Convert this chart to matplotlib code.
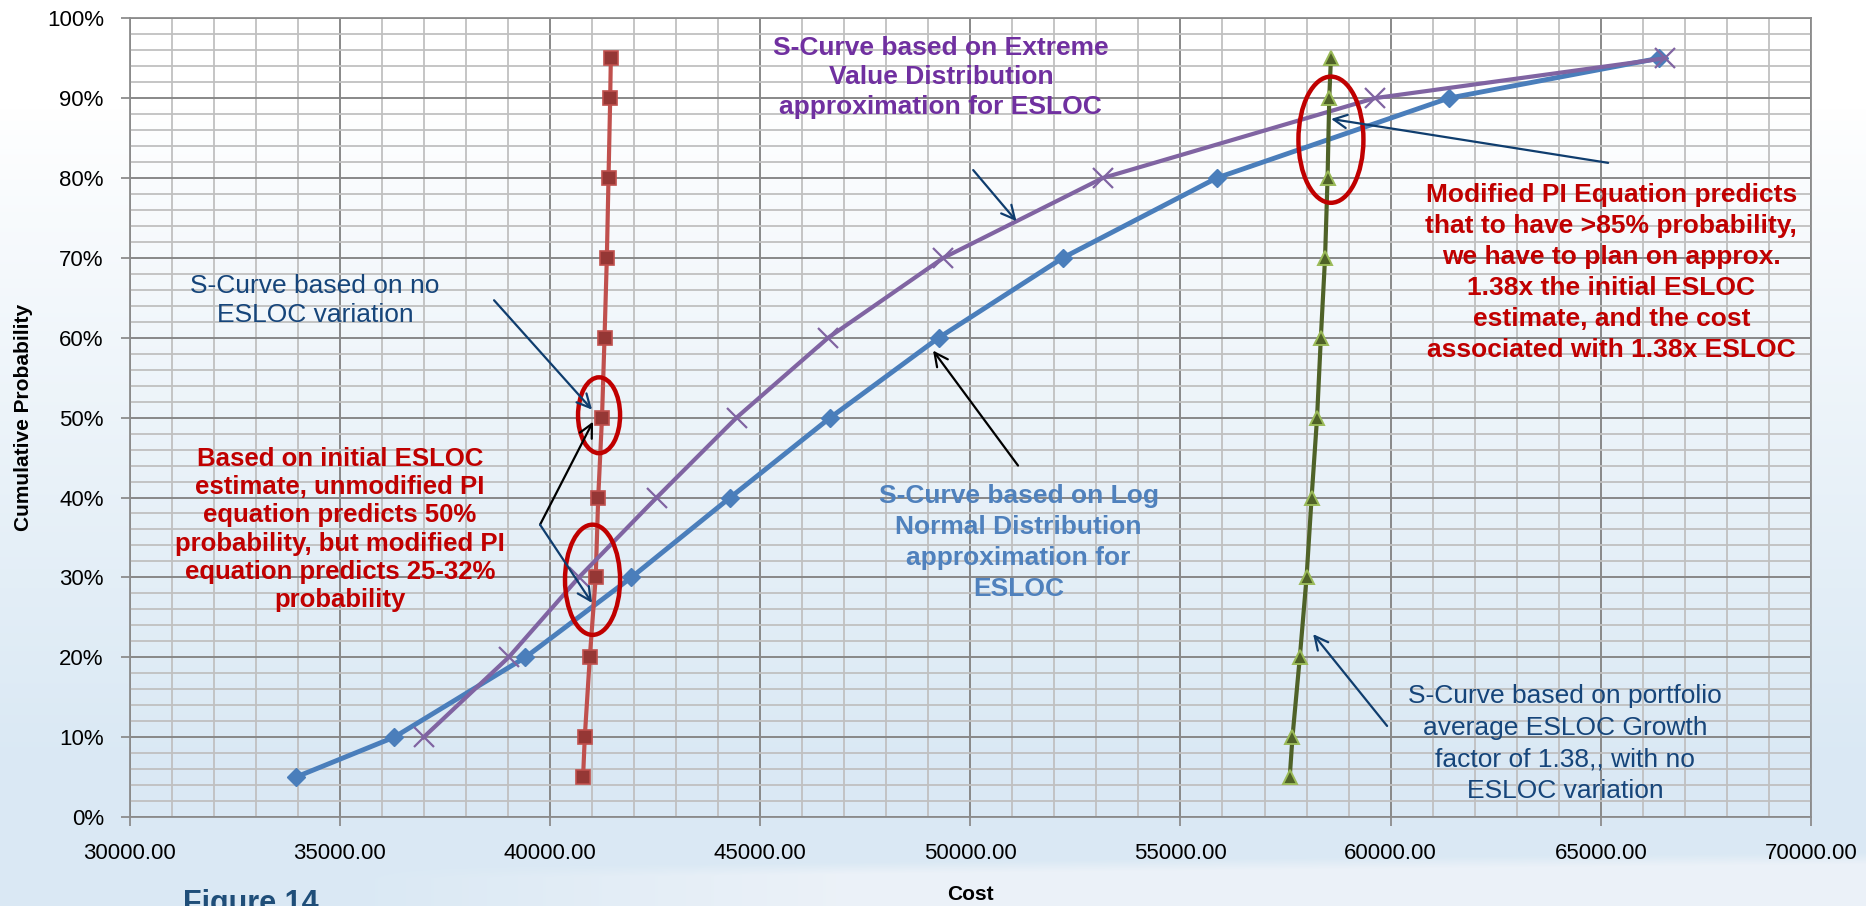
import numpy as np
import matplotlib
matplotlib.use("Agg")
import matplotlib.pyplot as plt
from matplotlib.patches import Ellipse
from matplotlib.ticker import MultipleLocator, FuncFormatter

plt.rcParams["font.family"] = ["Liberation Sans", "DejaVu Sans"]

# cumulative probability levels (%)
prob = [5, 10, 20, 30, 40, 50, 60, 70, 80, 90, 95]
prob_extreme = [10, 20, 30, 40, 50, 60, 70, 80, 90, 95]

# cost
cost_lognormal = [33960, 36300, 39420, 41940, 44290, 46670, 49250, 52200, 55860, 61380, 66390]
cost_no_variation = [40790, 40830, 40950, 41090, 41150, 41240, 41300, 41355, 41395, 41435, 41450]
cost_portfolio = [57600, 57665, 57840, 58000, 58120, 58250, 58340, 58440, 58500, 58540, 58580]
cost_extreme = [37000, 39020, 40690, 42540, 44440, 46620, 49360, 53150, 59620, 66530]

W, H = 1866, 906
fig = plt.figure(figsize=(W / 100, H / 100), dpi=100)

# light blue slide background
bg = fig.add_axes([0, 0, 1, 1], zorder=-10)
yy, xx = np.mgrid[0:H, 0:W]
f = np.clip((yy / H - 0.12) / 0.72, 0, 1) ** 0.9
top = np.array([1.0, 1.0, 1.0])
bot = np.array([0.855, 0.912, 0.957])
img = top * (1 - f[..., None]) + bot * f[..., None]
edge = 870 - 18 * (xx / W)
sw = np.clip((yy - edge) / 12, 0, 1) * np.clip((xx - 350) / 500, 0, 1)
light = np.array([0.925, 0.947, 0.973])
img = img * (1 - sw[..., None]) + light * sw[..., None]
bg.imshow(img, aspect="auto", extent=[0, 1, 0, 1])
bg.axis("off")

ax = fig.add_axes([129.5 / W, 1 - 817 / H, (1811 - 129.5) / W, (817 - 18.3) / H])
ax.set_facecolor("none")

ax.plot(cost_lognormal, prob, color="#4a7ebb", lw=3.5, marker="D", ms=9.5,
        mfc="#4a7ebb", mec="#4a7ebb", zorder=3)
ax.plot(cost_no_variation, prob, color="#c0504d", lw=3.0, marker="s", ms=9.5,
        mfc="#953735", mec="#c0504d", mew=1.2, zorder=4)
ax.plot(cost_extreme, prob_extreme, color="#8064a2", lw=3.0, marker="x", ms=14,
        mew=1.6, mec="#8064a2", zorder=5)
ax.plot(cost_portfolio, prob, color="#4f6228", lw=3.0, marker="^", ms=9.5,
        mfc="#4f6228", mec="#9bbb59", mew=1.4, zorder=6)

ax.set_xlim(30000, 70000)
ax.set_ylim(0, 100)
ax.xaxis.set_major_locator(MultipleLocator(5000))
ax.xaxis.set_minor_locator(MultipleLocator(1000))
ax.yaxis.set_major_locator(MultipleLocator(10))
ax.yaxis.set_minor_locator(MultipleLocator(2))
ax.xaxis.set_major_formatter(FuncFormatter(lambda v, p: f"{v:.2f}"))
ax.yaxis.set_major_formatter(FuncFormatter(lambda v, p: f"{v:.0f}%"))
ax.set_axisbelow(True)
ax.grid(which="major", color="#888888", lw=1.4)
ax.grid(which="minor", color="#c0c0c0", lw=1.3)
ax.tick_params(which="major", length=6.5, width=1.3, color="#8c8c8c",
               labelsize=16, pad=12)
ax.tick_params(which="minor", length=0)
for s in ax.spines.values():
    s.set_color("#8c8c8c")
    s.set_linewidth(1.3)

ax.set_xlabel("Cost", fontsize=15, fontweight="bold", labelpad=15)
ax.set_ylabel("Cumulative Probability", fontsize=15, fontweight="bold", labelpad=10)

# red ellipses around the points of interest
for cx, cy, w, h in [(41170, 50.3, 1000, 9.5), (41015, 29.7, 1310, 13.8), (58580, 84.8, 1546, 15.8)]:
    ax.add_patch(Ellipse((cx, cy), w, h, fill=False, ec="#c00000", lw=3.2, zorder=8))

dark = "#0f3d6e"
arrows = [
    ((50070, 81.0), (51100, 74.6), dark),
    ((38672, 64.7), (41003, 51.0), dark),
    ((39766, 36.6), (41027, 49.5), "black"),
    ((39766, 36.6), (41003, 26.8), dark),
    ((51137, 44.0), (49115, 58.4), "black"),
    ((65174, 81.9), (58584, 87.4), dark),
    ((59916, 11.4), (58156, 22.9), dark),
]
for tail, tip, c in arrows:
    ax.annotate("", xy=tip, xytext=tail,
                arrowprops=dict(arrowstyle="->", color=c, lw=1.6, mutation_scale=24,
                                shrinkA=0, shrinkB=0), zorder=9)

ax.text(49300, 92.6, "S-Curve based on Extreme\nValue Distribution\napproximation for ESLOC",
        ha="center", va="center", fontsize=19, fontweight="bold", color="#7030a0",
        linespacing=1.3, zorder=10)
ax.text(34413, 64.7, "S-Curve based on no\nESLOC variation",
        ha="center", va="center", fontsize=19, color="#16457a", linespacing=1.25, zorder=10)
ax.text(35000, 36.0,
        "Based on initial ESLOC\nestimate, unmodified PI\nequation predicts 50%\n"
        "probability, but modified PI\nequation predicts 25-32%\nprobability",
        ha="center", va="center", fontsize=18.5, fontweight="bold", color="#c00000",
        linespacing=1.22, zorder=10)
ax.text(51150, 34.4, "S-Curve based on Log\nNormal Distribution\napproximation for\nESLOC",
        ha="center", va="center", fontsize=19, fontweight="bold", color="#4f81bd",
        linespacing=1.36, zorder=10)
ax.text(65250, 68.2,
        "Modified PI Equation predicts\nthat to have >85% probability,\nwe have to plan on approx.\n"
        "1.38x the initial ESLOC\nestimate, and the cost\nassociated with 1.38x ESLOC",
        ha="center", va="center", fontsize=19, fontweight="bold", color="#c00000",
        linespacing=1.37, zorder=10)
ax.text(64150, 9.2, "S-Curve based on portfolio\naverage ESLOC Growth\nfactor of 1.38,, with no\nESLOC variation",
        ha="center", va="center", fontsize=19, color="#16457a", linespacing=1.4, zorder=10)

fig.text(183 / W, 1 - 889 / H, "Figure 14", ha="left", va="top", fontsize=22,
         fontweight="bold", color="#1f4e79")

fig.savefig("out.png", dpi=100)
